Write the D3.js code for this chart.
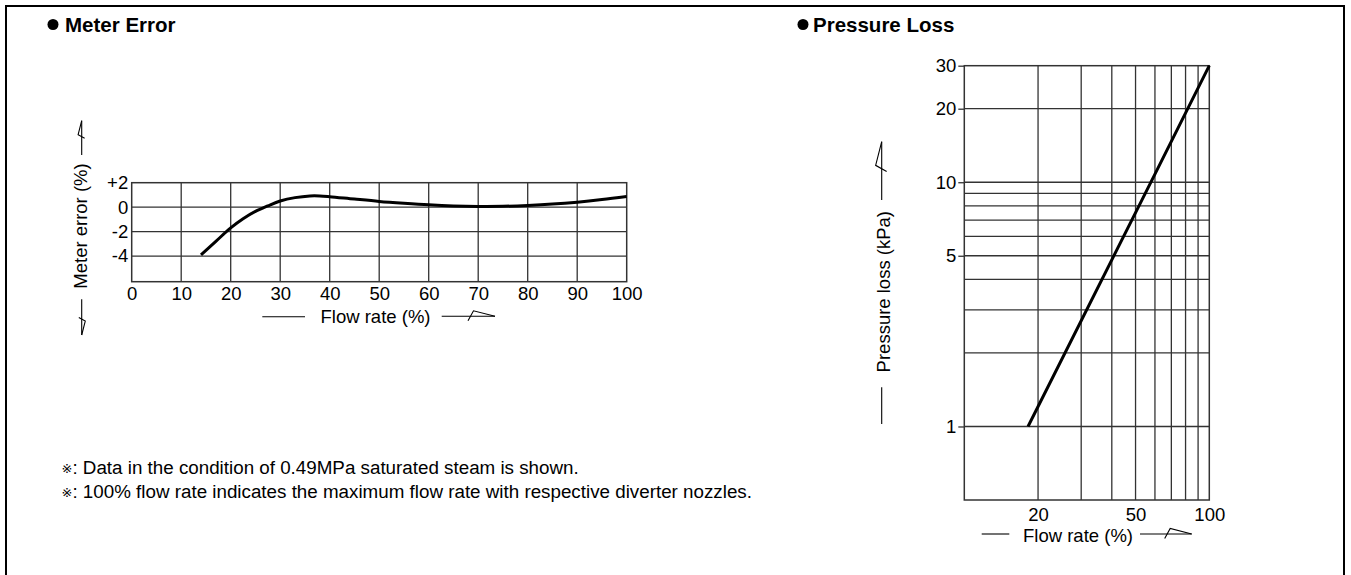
<!DOCTYPE html>
<html>
<head>
<meta charset="utf-8">
<script src="https://cdn.jsdelivr.net/npm/d3@7"></script>
<style>
  html, body { margin: 0; padding: 0; background: #fff; }
  svg { display: block; font-family: "Liberation Sans", Arial, "DejaVu Sans", "Noto Sans CJK JP", sans-serif; }
</style>
</head>
<body>
<svg id="chart" width="1351" height="575"></svg>
<script>
// ---------- Data ----------
const titles = ["Meter Error", "Pressure Loss"];

// Meter error chart
const meterFlow  = [14, 17, 20, 22.5, 25, 27.5, 30, 33, 36, 38, 40, 45, 50, 55, 60, 65, 70, 75, 80, 85, 90, 95, 100];
const meterError = [-3.9, -2.8, -1.7, -0.95, -0.35, 0.1, 0.5, 0.78, 0.92, 0.92, 0.86, 0.66, 0.47, 0.32, 0.19, 0.1, 0.06, 0.07, 0.14, 0.25, 0.41, 0.62, 0.87];
const meterXTicks = [0, 10, 20, 30, 40, 50, 60, 70, 80, 90, 100];
const meterYTicks = [2, 0, -2, -4];
const meterXLabel = "Flow rate (%)";
const meterYLabel = "Meter error (%)";

// Pressure loss chart
const lossFlow = [18.2, 60, 100];
const lossKPa  = [1, 10.8, 30];
const lossXTicks = [20, 50, 100];
const lossYTicks = [1, 5, 10, 20, 30];
const lossXGrid = [20, 30, 40, 50, 60, 70, 80, 90];
const lossYGrid = [1, 2, 3, 4, 5, 6, 7, 8, 9, 10, 20];
const lossXLabel = "Flow rate (%)";
const lossYLabel = "Pressure loss (kPa)";

const noteMark = "※";
const notes = [
  ": Data in the condition of 0.49MPa saturated steam is shown.",
  ": 100% flow rate indicates the maximum flow rate with respective diverter nozzles."
];

// ---------- Drawing ----------
const svg = d3.select("#chart");
const gridColor = "#333";
const FS = 18.5;

// frame
svg.append("path")
  .attr("d", "M6,580 V6 H1344 V580")
  .attr("fill", "none").attr("stroke", "#000").attr("stroke-width", 2);

// titles
[[53, 65], [803, 813]].forEach((p, i) => {
  svg.append("circle").attr("cx", p[0]).attr("cy", 24.5).attr("r", 5.5).attr("fill", "#000");
  svg.append("text").attr("x", p[1]).attr("y", 31.5)
    .attr("font-size", 20.5).attr("font-weight", "bold").text(titles[i]);
});

// arrow glyph helper: shaft from (sx,sy) to tip (tx,ty), with the characteristic half-arrow
function arrow(sx, sy, tx, ty, s) {
  const len = Math.hypot(tx - sx, ty - sy);
  const ux = (tx - sx) / len, uy = (ty - sy) / len;
  const px = -uy, py = ux;
  const pt = (a, b) => [tx + a * s * ux + b * s * px, ty + a * s * uy + b * s * py];
  const p1 = pt(-27, 4.5), p2 = pt(-21.5, -5.5);
  svg.append("line").attr("x1", sx).attr("y1", sy).attr("x2", tx).attr("y2", ty)
    .attr("stroke", "#000").attr("stroke-width", 1.1);
  svg.append("path")
    .attr("d", `M${p1[0]},${p1[1]} L${p2[0]},${p2[1]} L${tx},${ty}`)
    .attr("fill", "none").attr("stroke", "#000").attr("stroke-width", 1.1);
}
function plainLine(x1, y1, x2, y2) {
  svg.append("line").attr("x1", x1).attr("y1", y1).attr("x2", x2).attr("y2", y2)
    .attr("stroke", "#000").attr("stroke-width", 1.1);
}

// ===== Meter Error chart =====
const xL = d3.scaleLinear().domain([0, 100]).range([131.7, 626.7]);
const yL = d3.scaleLinear().domain([-6.1, 2]).range([281.7, 182.7]);
const gL = svg.append("g");

gL.selectAll("line.vg").data(meterXTicks.slice(1, -1)).join("line")
  .attr("x1", d => xL(d)).attr("x2", d => xL(d))
  .attr("y1", yL.range()[0]).attr("y2", yL.range()[1])
  .attr("stroke", gridColor).attr("stroke-width", 1.3);
gL.selectAll("line.hg").data(meterYTicks.slice(1)).join("line")
  .attr("x1", xL.range()[0]).attr("x2", xL.range()[1])
  .attr("y1", d => yL(d)).attr("y2", d => yL(d))
  .attr("stroke", gridColor).attr("stroke-width", 1.3);
gL.append("rect")
  .attr("x", xL.range()[0]).attr("y", yL.range()[1])
  .attr("width", xL.range()[1] - xL.range()[0]).attr("height", yL.range()[0] - yL.range()[1])
  .attr("fill", "none").attr("stroke", gridColor).attr("stroke-width", 1.5);

const axL_y = gL.append("g").attr("transform", `translate(${xL.range()[0]},0)`)
  .call(d3.axisLeft(yL).tickValues(meterYTicks).tickSize(0).tickPadding(3.5)
    .tickFormat(d => d > 0 ? "+" + d : String(d)));
const axL_x = gL.append("g").attr("transform", `translate(0,${yL.range()[0]})`)
  .call(d3.axisBottom(xL).tickValues(meterXTicks).tickSize(0).tickPadding(4.8)
    .tickFormat(d => String(d)));
[axL_y, axL_x].forEach(a => {
  a.select(".domain").remove();
  a.selectAll("text").attr("font-size", FS).attr("fill", "#000");
  a.attr("font-family", null).attr("font-size", null);
});

const lineL = d3.line().x((d, i) => xL(meterFlow[i])).y(d => yL(d)).curve(d3.curveCatmullRom.alpha(0.5));
gL.append("path").attr("d", lineL(meterError))
  .attr("fill", "none").attr("stroke", "#000").attr("stroke-width", 3);

// x label
svg.append("text").attr("x", 375.5).attr("y", 323).attr("text-anchor", "middle")
  .attr("font-size", FS).text(meterXLabel);
plainLine(262.3, 316.7, 305, 316.7);
arrow(441.7, 316.3, 495, 316.3, 1);
// y label
svg.append("text").attr("transform", "translate(87,226) rotate(-90)")
  .attr("text-anchor", "middle").attr("font-size", FS).text(meterYLabel);
arrow(81.7, 155, 81.7, 120.7, 0.65);
arrow(81.7, 299.3, 81.7, 335, 0.65);

// notes
notes.forEach((t, i) => {
  const tx = svg.append("text").attr("x", 61.5).attr("y", 473.5 + i * 24.5)
    .attr("font-size", 18.8);
  tx.append("tspan").attr("font-family", "'DejaVu Sans', sans-serif").attr("font-size", 13)
    .attr("dy", -1).text(noteMark);
  tx.append("tspan").attr("dy", 1).text(t);
});

// ===== Pressure Loss chart =====
const xR = d3.scaleLog().domain([10, 100]).range([964.3, 1209.3]);
const yR = d3.scaleLog().domain([0.5, 30]).range([500, 65.7]);
const gR = svg.append("g");

gR.selectAll("line.vg").data(lossXGrid).join("line")
  .attr("x1", d => xR(d)).attr("x2", d => xR(d))
  .attr("y1", yR.range()[0]).attr("y2", yR.range()[1])
  .attr("stroke", gridColor).attr("stroke-width", 1.3);
gR.selectAll("line.hg").data(lossYGrid).join("line")
  .attr("x1", xR.range()[0]).attr("x2", xR.range()[1])
  .attr("y1", d => yR(d)).attr("y2", d => yR(d))
  .attr("stroke", gridColor).attr("stroke-width", 1.3);
gR.append("rect")
  .attr("x", xR.range()[0]).attr("y", yR.range()[1])
  .attr("width", xR.range()[1] - xR.range()[0]).attr("height", yR.range()[0] - yR.range()[1])
  .attr("fill", "none").attr("stroke", gridColor).attr("stroke-width", 1.5);

const axR_y = gR.append("g").attr("transform", `translate(${xR.range()[0]},0)`)
  .call(d3.axisLeft(yR).tickValues(lossYTicks).tickSize(6).tickPadding(2)
    .tickFormat(d3.format("d")));
const axR_x = gR.append("g").attr("transform", `translate(0,${yR.range()[0]})`)
  .call(d3.axisBottom(xR).tickValues(lossXTicks).tickSize(0).tickPadding(7.5)
    .tickFormat(d3.format("d")));
[axR_y, axR_x].forEach(a => {
  a.select(".domain").remove();
  a.selectAll("line").attr("stroke", gridColor).attr("stroke-width", 1.3);
  a.selectAll("text").attr("font-size", FS).attr("fill", "#000");
  a.attr("font-family", null).attr("font-size", null);
});

const lineR = d3.line().x((d, i) => xR(lossFlow[i])).y(d => yR(d));
gR.append("path").attr("d", lineR(lossKPa))
  .attr("fill", "none").attr("stroke", "#000").attr("stroke-width", 3);

// x label
svg.append("text").attr("x", 1078).attr("y", 542).attr("text-anchor", "middle")
  .attr("font-size", FS).text(lossXLabel);
plainLine(981.7, 534, 1009.3, 534);
arrow(1140, 534, 1191.7, 534, 1);
// y label
svg.append("text").attr("transform", "translate(889.5,291.7) rotate(-90)")
  .attr("text-anchor", "middle").attr("font-size", FS).text(lossYLabel);
plainLine(881.7, 387.3, 881.7, 424);
arrow(881.7, 200, 881.7, 141.7, 1.1);
</script>
</body>
</html>
